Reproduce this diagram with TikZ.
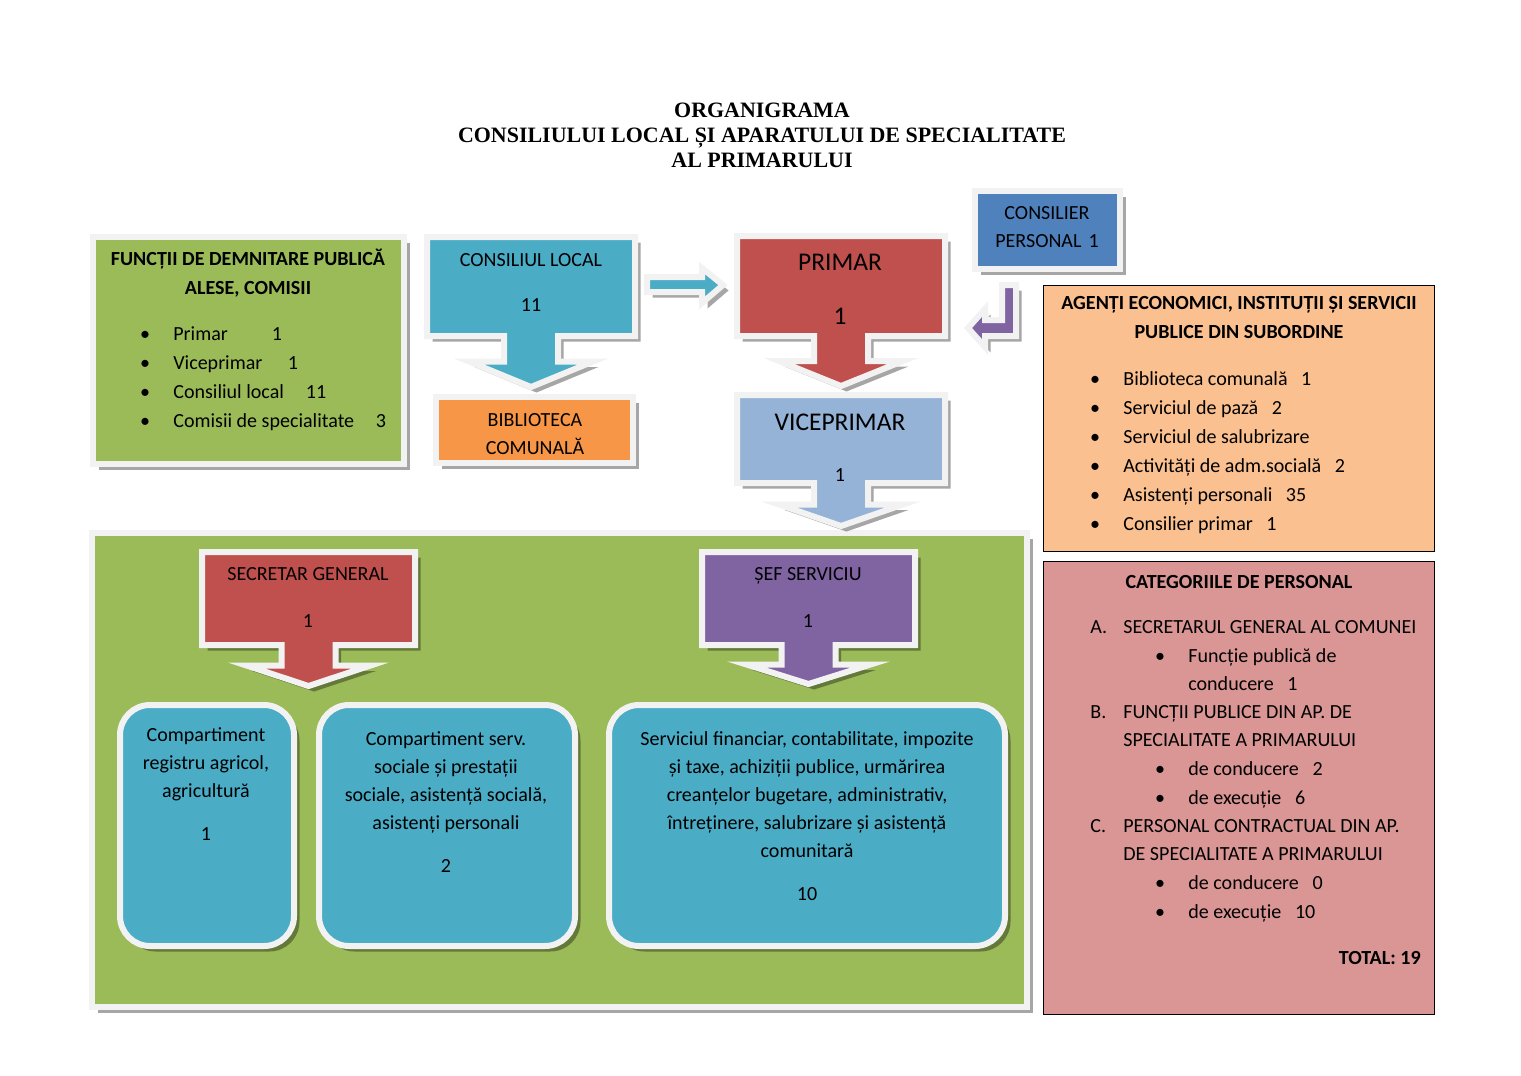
\documentclass[tikz,border=0pt]{standalone}
\usepackage{fontspec}
\setmainfont{Carlito}
\newfontfamily\titlefont{Liberation Serif}
\usepackage{xcolor}
\usetikzlibrary{shadows}

\definecolor{rimgray}{HTML}{F2F2F2}
\definecolor{clteal}{HTML}{4BACC6}
\definecolor{biborange}{HTML}{F79646}
\definecolor{primred}{HTML}{C0504D}
\definecolor{vicblue}{HTML}{95B3D7}
\definecolor{consblue}{HTML}{4F81BD}
\definecolor{sefpurple}{HTML}{8064A2}
\definecolor{apgreen}{HTML}{9BBB59}
\definecolor{agorange}{HTML}{FAC090}
\definecolor{catpink}{HTML}{D99694}

\tikzset{
  rim/.style={draw=rimgray, line width=0.12cm, line join=miter,
    drop shadow={shadow xshift=0.11cm, shadow yshift=-0.11cm, opacity=.35, fill=black}},
  txt/.style={inner sep=0pt, yshift=-0.04cm, font=\fontsize{11.4}{15.9}\selectfont, execute at begin node=\strut},
  bigtxt/.style={inner sep=0pt, yshift=-0.06cm, font=\fontsize{14.5}{17}\selectfont, execute at begin node=\strut},
  hd/.style={inner sep=0pt, yshift=-0.04cm, font=\bfseries\fontsize{11.4}{16.4}\selectfont, execute at begin node=\strut},
}

% box with a down arrow: centre x, top, bottom, half width, tip, colour
\newcommand{\downcall}[6]{%
  \filldraw[rim, fill=#6] ({#1-#4},#2) -- ({#1+#4},#2) -- ({#1+#4},#3) -- ({#1+27},#3)
    -- ({#1+27},{(#3+#5)/2}) -- ({#1+62},{(#3+#5)/2}) -- (#1,#5) -- ({#1-62},{(#3+#5)/2})
    -- ({#1-27},{(#3+#5)/2}) -- ({#1-27},#3) -- ({#1-#4},#3) -- cycle;}

\begin{document}
\begin{tikzpicture}[x=0.02cm,y=-0.02cm]
\useasboundingbox (0,0) rectangle (1521,1075);

% Title
\node[inner sep=0pt, align=center, font=\titlefont\bfseries\fontsize{12.5}{14.2}\selectfont] (title) at (762,135)
  {ORGANIGRAMA\\CONSILIULUI LOCAL ȘI APARATULUI DE SPECIALITATE\\AL PRIMARULUI};

% Functii de demnitare publica
\filldraw[rim, fill=apgreen] (93,237) rectangle (404,464);
\node[hd, align=center] (fdp) at (248,274) {FUNCȚII DE DEMNITARE PUBLICĂ\\ALESE, COMISII};
\node[txt] (fb1) at (145,333) {•};
\node[txt] (fb2) at (145,362) {•};
\node[txt] (fb3) at (145,391) {•};
\node[txt] (fb4) at (145,420) {•};
\node[txt, anchor=west] (ft1) at (173,333) {Primar};
\node[txt, anchor=west] (ft2) at (173,362) {Viceprimar};
\node[txt, anchor=west] (ft3) at (173,391) {Consiliul local};
\node[txt, anchor=west] (ft4) at (173,420) {Comisii de specialitate};
\node[txt] (fn1) at (277,333) {1};
\node[txt] (fn2) at (293,362) {1};
\node[txt] (fn3) at (316,391) {11};
\node[txt] (fn4) at (381,420) {3};

% Consiliul local
\downcall{531}{237}{336}{104}{387}{clteal}
\node[txt] (cl) at (531,259) {CONSILIUL LOCAL};
\node[txt] (cln) at (531,304) {11};

% Biblioteca comunala
\filldraw[rim, fill=biborange] (436,397) rectangle (633,463);
\node[txt, align=center] (bib) at (535,436) {BIBLIOTECA\\COMUNALĂ};

% arrow consiliul local -> primar
\filldraw[rim, fill=clteal] (647,277) -- (702,277) -- (702,268) -- (723,285)
  -- (702,303) -- (702,292) -- (647,292) -- cycle;

% Big green box (aparatul de specialitate)
\filldraw[rim, fill=apgreen] (92,533) rectangle (1027,1007);

% Primar and viceprimar
\downcall{841}{236}{336}{104}{386}{primred}
\node[bigtxt] (primar) at (840,262) {PRIMAR};
\node[bigtxt] (primarn) at (840,316) {1};
\downcall{841}{395}{483}{104}{526}{vicblue}
\node[bigtxt] (vice) at (840,422) {VICEPRIMAR};
\node[txt] (vicen) at (840,474) {1};

% Consilier personal
\filldraw[rim, fill=consblue] (975,191) rectangle (1120,269);
\node[txt, align=center] (cons) at (1047,229) {CONSILIER\\PERSONAL\hspace{4pt}1};

% bent arrow consilier -> primar
\filldraw[rim, fill=sefpurple] (1016,285) -- (1016,336) -- (985,336) -- (985,347)
  -- (968,328) -- (985,309) -- (985,320) -- (1002,320) -- (1002,285) -- cycle;

% Agenti economici
\draw[fill=agorange] (1043,285) rectangle (1434,551);
\node[hd, align=center] (ag) at (1239,320) {AGENȚI ECONOMICI, INSTITUȚII ȘI SERVICII\\PUBLICE DIN SUBORDINE};
\node[txt] (ab1) at (1095,378) {•};
\node[txt] (ab2) at (1095,407) {•};
\node[txt] (ab3) at (1095,436) {•};
\node[txt] (ab4) at (1095,465) {•};
\node[txt] (ab5) at (1095,494) {•};
\node[txt] (ab6) at (1095,523) {•};
\node[txt, anchor=west] (at1) at (1123,378) {Biblioteca comunală~~~1};
\node[txt, anchor=west] (at2) at (1123,407) {Serviciul de pază~~~2};
\node[txt, anchor=west] (at3) at (1123,436) {Serviciul de salubrizare};
\node[txt, anchor=west] (at4) at (1123,465) {Activități de adm.socială~~~2};
\node[txt, anchor=west] (at5) at (1123,494) {Asistenți personali~~~35};
\node[txt, anchor=west] (at6) at (1123,523) {Consilier primar~~~1};

% Categoriile de personal
\draw[fill=catpink] (1043,561) rectangle (1434,1014);
\node[hd] (cat) at (1239,581) {CATEGORIILE DE PERSONAL};
\node[txt, anchor=west] (ca) at (1090,626) {A.};
\node[txt, anchor=west] (cat1) at (1123,626) {SECRETARUL GENERAL AL COMUNEI};
\node[txt] (cb1) at (1160,655) {•};
\node[txt, anchor=west] (ct1) at (1188,655) {Funcție publică de};
\node[txt, anchor=west] (ct2) at (1188,683) {conducere~~~1};
\node[txt, anchor=west] (cbb) at (1090,711) {B.};
\node[txt, anchor=west] (cbt1) at (1123,711) {FUNCȚII PUBLICE DIN AP. DE};
\node[txt, anchor=west] (cbt2) at (1123,739) {SPECIALITATE A PRIMARULUI};
\node[txt] (cb2) at (1160,768) {•};
\node[txt] (cb3) at (1160,797) {•};
\node[txt, anchor=west] (ct3) at (1188,768) {de conducere~~~2};
\node[txt, anchor=west] (ct4) at (1188,797) {de execuție~~~6};
\node[txt, anchor=west] (cc) at (1090,825) {C.};
\node[txt, anchor=west] (cct1) at (1123,825) {PERSONAL CONTRACTUAL DIN AP.};
\node[txt, anchor=west] (cct2) at (1123,853) {DE SPECIALITATE A PRIMARULUI};
\node[txt] (cb4) at (1160,882) {•};
\node[txt] (cb5) at (1160,911) {•};
\node[txt, anchor=west] (ct5) at (1188,882) {de conducere~~~0};
\node[txt, anchor=west] (ct6) at (1188,911) {de execuție~~~10};
\node[hd, anchor=east] (total) at (1421,957) {TOTAL: 19};

% Secretar general and sef serviciu
\downcall{308.5}{552}{645}{106.5}{686}{primred}
\node[txt] (sec) at (308,573) {SECRETAR GENERAL};
\node[txt] (secn) at (308,620) {1};
\downcall{808.5}{552}{645}{106.5}{684}{sefpurple}
\node[txt] (sef) at (808,573) {ȘEF SERVICIU};
\node[txt] (sefn) at (808,620) {1};

% Compartimente
\filldraw[rim, fill=clteal, rounded corners=0.6cm] (120,705) rectangle (294,946);
\node[txt, align=center, anchor=north] (reg) at (206,725)
  {Compartiment\\registru agricol,\\agricultură\\[9pt]1};
\filldraw[rim, fill=clteal, rounded corners=0.6cm] (319,705) rectangle (575,946);
\node[txt, align=center, anchor=north] (soc) at (446,729)
  {Compartiment serv.\\sociale și prestații\\sociale, asistență socială,\\asistenți personali\\[9pt]2};
\filldraw[rim, fill=clteal, rounded corners=0.6cm] (609,705) rectangle (1005,946);
\node[txt, align=center, anchor=north] (fin) at (807,729)
  {Serviciul financiar, contabilitate, impozite\\și taxe, achiziții publice, urmărirea\\creanțelor bugetare, administrativ,\\întreținere, salubrizare și asistență\\comunitară\\[9pt]10};

\end{tikzpicture}
\end{document}
